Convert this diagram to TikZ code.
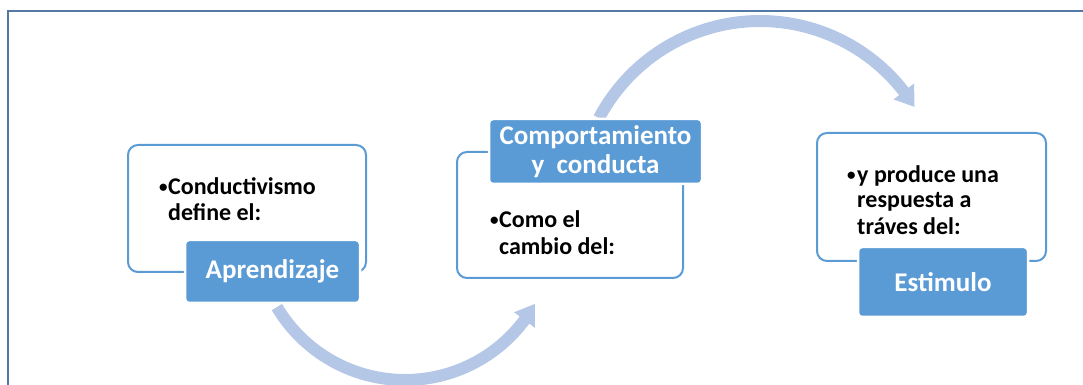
\documentclass[tikz,border=0pt]{standalone}
\usepackage{fontspec}
\setmainfont{Carlito}
\usetikzlibrary{calc}
\definecolor{accent}{RGB}{91,155,213}
\definecolor{arrowc}{RGB}{180,199,231}
\definecolor{framec}{RGB}{84,120,165}
\begin{document}
\begin{tikzpicture}[x=1pt,y=1pt,
  outerbox/.style={draw=accent, line width=2pt, rounded corners=10pt, fill=white, inner sep=0pt},
  titlebox/.style={fill=accent, draw=white, line width=2.5pt, rounded corners=4pt, text=white,
    font=\fontsize{27}{29}\selectfont\bfseries, align=center, inner sep=0pt},
  bodytext/.style={font=\fontsize{24}{26}\selectfont\bfseries, anchor=base west, inner sep=0pt},
  bulletmark/.style={font=\fontsize{17}{20}\selectfont\bfseries, anchor=base west, inner sep=0pt, yshift=2pt},
  curvedarrow/.style={draw=arrowc, line width=12pt},
  arrowhead/.style={fill=arrowc, draw=none}]
\useasboundingbox (0,0) rectangle (1083,385);
\clip (0,0) rectangle (1083,385);
% frame
\coordinate (fr1) at (1083,374);
\coordinate (fr2) at (8,374);
\coordinate (fr3) at (8,0);
\draw[framec, line width=2pt] (fr1) -- (fr2) -- (fr3);
% curved arrows
\coordinate (c1) at (405,154);
\coordinate (c2) at (760,182);
\draw[curvedarrow] ($(c1)+(210.7:149)$) arc[start angle=210.7, end angle=323.5, radius=149];
\fill[arrowhead] ($(c1)+(323.3:136)$) -- ($(c1)+(323.3:162)$) -- ($(c1)+(330.7:149)$) -- cycle;
\draw[curvedarrow] ($(c2)+(152.2:182)$) arc[start angle=152.2, end angle=37.6, radius=182];
\fill[arrowhead] ($(c2)+(37.8:169)$) -- ($(c2)+(37.8:195)$) -- ($(c2)+(31.9:182)$) -- cycle;
% boxes
\node[outerbox, minimum width=238pt, minimum height=127pt] (b1) at (247,176.5) {};
\node[titlebox, minimum width=175pt, minimum height=63pt] (t1) at (272.5,113.5) {Aprendizaje};
\node[outerbox, minimum width=226pt, minimum height=126pt] (b2) at (570,170) {};
\node[titlebox, minimum width=213pt, minimum height=65pt] (t2) at (595.5,233.5) {Comportamiento\\y~~conducta};
\node[outerbox, minimum width=229pt, minimum height=128pt] (b3) at (931.5,188) {};
\node[titlebox, minimum width=170pt, minimum height=70pt] (t3) at (943,103) {Estimulo};
% texts
\node[bulletmark] (p1a) at (159,190) {\textbullet};
\node[bodytext] (l1a) at (168,190) {Conductivismo};
\node[bodytext] (l1b) at (168,164) {define el:};
\node[bulletmark] (p2a) at (490,157) {\textbullet};
\node[bodytext] (l2a) at (499,157) {Como el};
\node[bodytext] (l2b) at (499,130) {cambio del:};
\node[bulletmark] (p3a) at (847,202) {\textbullet};
\node[bodytext] (l3a) at (857,202) {y produce una};
\node[bodytext] (l3b) at (857,177) {respuesta a};
\node[bodytext] (l3c) at (857,150) {tráves del:};
\end{tikzpicture}
\end{document}
